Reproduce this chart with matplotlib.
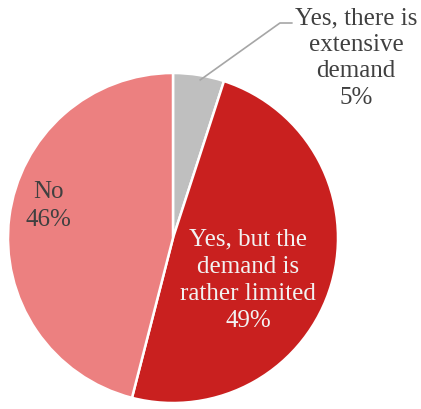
import matplotlib
matplotlib.use("Agg")
import matplotlib.pyplot as plt

# survey answers, clockwise from 12 o'clock
labels = ["Yes, there is\nextensive\ndemand", "Yes, but the\ndemand is\nrather limited", "No"]
shares = [5, 49, 46]
colors = ["#BFBFBF", "#C9201F", "#EC8080"]

plt.rcParams["font.family"] = ["Liberation Serif", "DejaVu Serif"]

fig = plt.figure(figsize=(4.21, 4.09), dpi=100)
ax = fig.add_axes([8 / 421, 6 / 409, 330 / 421, 330 / 409])
ax.pie(shares, colors=colors, startangle=90, counterclock=False, radius=1,
       wedgeprops=dict(edgecolor="white", linewidth=1.8))
ax.set_xlim(-1, 1)
ax.set_ylim(-1, 1)
ax.set_aspect("equal")
ax.axis("off")

fs = 18
# small slice: label outside with a leader line
ax.text(1.109, 1.09, f"{labels[0]}\n{shares[0]}%", ha="center", va="center",
        fontsize=fs, color="#404040", linespacing=1.25, clip_on=False)
ax.plot([0.165, 0.648, 0.72], [0.958, 1.303, 1.303], color="#A6A6A6", lw=1.2,
        clip_on=False)
ax.text(0.455, -0.255, f"{labels[1]}\n{shares[1]}%", ha="center", va="center",
        fontsize=fs, color="#F2F2F2", linespacing=1.3)
ax.text(-0.757, 0.194, f"{labels[2]}\n{shares[2]}%", ha="center", va="center",
        fontsize=fs, color="#404040", linespacing=1.3)

fig.savefig("out.png", dpi=100)
